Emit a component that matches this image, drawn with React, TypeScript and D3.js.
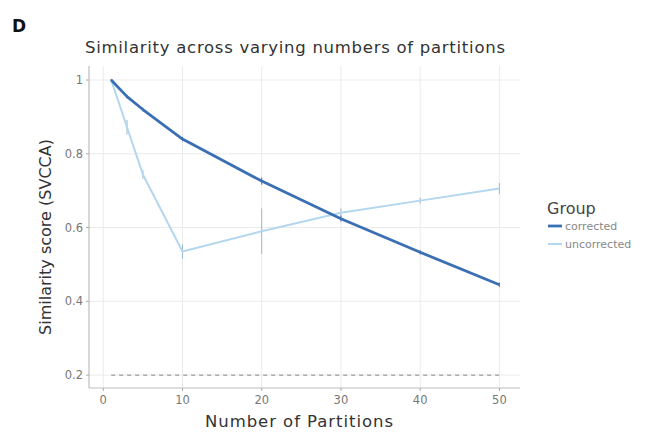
import React from "react";
import * as d3 from "d3";

const partitions = [1, 3, 5, 10, 20, 30, 40, 50];
const corrected = [1.0, 0.955, 0.92, 0.84, 0.726, 0.624, 0.533, 0.445];
const correctedErr = [0.003, 0.005, 0.005, 0.006, 0.01, 0.008, 0.006, 0.006];
const uncorrected = [1.0, 0.872, 0.744, 0.535, 0.59, 0.64, 0.673, 0.706];
const uncorrectedErr = [0.003, 0.02, 0.012, 0.02, 0.062, 0.012, 0.008, 0.015];
const baseline = 0.2;
const xTicks = [0, 10, 20, 30, 40, 50];
const yTicks = [0.2, 0.4, 0.6, 0.8, 1];
const groups = ["corrected", "uncorrected"];
const colors = ["#3b6fb3", "#b3d7ef"];

export default function App() {
  const W = 662, H = 434;
  const left = 89, right = 520, top = 66, bottom = 388;
  const x = d3.scaleLinear().domain([-1.8, 52.6]).range([left, right]);
  const y = d3.scaleLinear().domain([0.165, 1.038]).range([bottom, top]);
  const line = d3
    .line<[number, number]>()
    .x((d) => x(d[0]))
    .y((d) => y(d[1]));
  const series = [
    { vals: corrected, err: correctedErr },
    { vals: uncorrected, err: uncorrectedErr },
  ];
  const font = "DejaVu Sans, sans-serif";
  return (
    <svg width={W} height={H} style={{ position: "absolute", left: 0, top: 0, background: "#fff" }} fontFamily={font}>
      <text x={12} y={32} fontSize={17} fontWeight="bold" fill="#111">D</text>
      <text x={85} y={53} fontSize={16.5} fill="#333" textLength={420} lengthAdjust="spacing">
        Similarity across varying numbers of partitions
      </text>
      {/* grid */}
      {xTicks.map((t) => (
        <line key={"gx" + t} x1={x(t)} x2={x(t)} y1={top} y2={bottom} stroke="#ebebeb" strokeWidth={1} />
      ))}
      {yTicks.map((t) => (
        <line key={"gy" + t} x1={left} x2={right} y1={y(t)} y2={y(t)} stroke="#ebebeb" strokeWidth={1} />
      ))}
      {/* axes */}
      <line x1={left} x2={left} y1={top} y2={bottom} stroke="#bdbdbd" strokeWidth={1.2} />
      <line x1={left} x2={right} y1={bottom} y2={bottom} stroke="#bdbdbd" strokeWidth={1.2} />
      {xTicks.map((t) => (
        <g key={"xt" + t}>
          <line x1={x(t)} x2={x(t)} y1={bottom} y2={bottom + 3} stroke="#aaa" />
          <text x={x(t)} y={bottom + 16} fontSize={11.5} fill="#777" textAnchor="middle">{t}</text>
        </g>
      ))}
      {yTicks.map((t) => (
        <g key={"yt" + t}>
          <line x1={left - 3} x2={left} y1={y(t)} y2={y(t)} stroke="#aaa" />
          <text x={left - 6} y={y(t) + 4} fontSize={11.5} fill="#777" textAnchor="end">{t}</text>
        </g>
      ))}
      <text x={299} y={427} fontSize={16.5} fill="#333" textAnchor="middle" textLength={188} lengthAdjust="spacing">
        Number of Partitions
      </text>
      <text
        transform={`translate(51,237) rotate(-90)`}
        fontSize={16}
        fill="#333"
        textAnchor="middle"
        textLength={196}
        lengthAdjust="spacing"
      >
        Similarity score (SVCCA)
      </text>
      {/* baseline */}
      <line x1={x(1)} x2={x(50)} y1={y(baseline)} y2={y(baseline)} stroke="#999" strokeWidth={1.2} strokeDasharray="4,4" />
      {/* series: uncorrected first, then corrected on top */}
      {[1, 0].map((i) => {
        const s = series[i];
        const pts = partitions.map((p, j) => [p, s.vals[j]] as [number, number]);
        return (
          <g key={"s" + i}>
            {partitions.map((p, j) => (
              <line
                key={"e" + j}
                x1={x(p)}
                x2={x(p)}
                y1={y(s.vals[j] - s.err[j])}
                y2={y(s.vals[j] + s.err[j])}
                stroke={i === 1 ? "#9fb8c9" : "#4a77ad"}
                strokeWidth={1}
              />
            ))}
            <path d={line(pts) || ""} fill="none" stroke={colors[i]} strokeWidth={i === 0 ? 2.8 : 2} strokeLinejoin="round" />
          </g>
        );
      })}
      {/* legend */}
      <text x={547} y={214} fontSize={16} fill="#444">Group</text>
      {groups.map((g, i) => (
        <g key={g}>
          <line x1={548} x2={562} y1={226 + i * 18} y2={226 + i * 18} stroke={colors[i]} strokeWidth={i === 0 ? 2.8 : 2} />
          <text x={565} y={230 + i * 18} fontSize={11} fill="#888">{g}</text>
        </g>
      ))}
    </svg>
  );
}
